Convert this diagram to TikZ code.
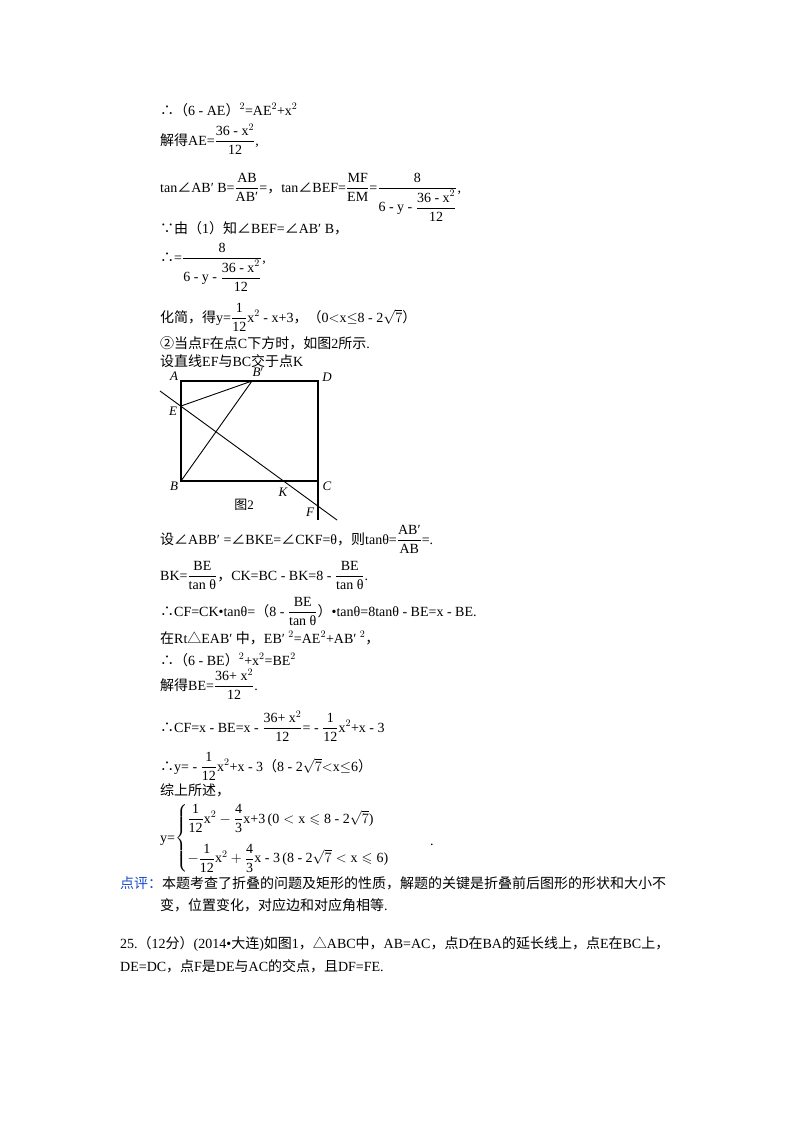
\documentclass[tikz,border=0pt]{standalone}
\usepackage{fontspec}
\usepackage{amsmath,amssymb}
\setmainfont{Liberation Serif}
\newfontfamily\zhf{Noto Sans CJK SC}
\newcommand{\zh}[1]{{\zhf #1}}
\newcommand{\ang}{\zh{∠}}
\newcommand{\fr}[2]{$\dfrac{\mbox{#1}}{\mbox{#2}}$}
\begin{document}
\begin{tikzpicture}[x=1pt,y=-1pt,
  txt/.style={anchor=base west,inner sep=0pt,font=\fontsize{14}{16}\selectfont},
  lab/.style={inner sep=0pt,font=\fontsize{13}{15}\selectfont\itshape},
  ln/.style={line width=1.2pt}]
\fill[white] (0,0) rectangle (800,1132);
\useasboundingbox (0,0) rectangle (800,1132);
\node[txt] (l1) at (160,115) {\zh{∴（}6 - AE\zh{）}$^2$=AE$^2$+x$^2$};
\node[txt] (l2) at (160,145) {\zh{解得}AE=\fr{36 - x$^2$}{12},};
\node[txt] (l3) at (160,192) {tan\ang AB′ B=\fr{AB}{AB′}=\zh{，}tan\ang BEF=\fr{MF}{EM}=$\dfrac{\mbox{8}}{\mbox{6 - y - }\dfrac{\mbox{36 - x$^2$}}{\mbox{12}}}$,};
\node[txt] (l4) at (160,233) {\zh{∵由（}1\zh{）知∠}BEF=\ang AB′ B\zh{，}};
\node[txt] (l5) at (160,262) {\zh{∴}=$\dfrac{\mbox{8}}{\mbox{6 - y - }\dfrac{\mbox{36 - x$^2$}}{\mbox{12}}}$,};
\node[txt] (l6) at (160,322) {\zh{化简，得}y=\fr{1}{12}x$^2$ - x+3\zh{，（}0$<$x$\le$8 - 2$\sqrt{7}$\zh{）}};
\node[txt] (l7) at (160,348) {\zh{②当点}F\zh{在点}C\zh{下方时，如图}2\zh{所示}.};
\node[txt] (l8) at (160,366) {\zh{设直线}EF\zh{与}BC\zh{交于点}K};
% figure
\coordinate (A) at (181,381); \coordinate (D) at (318,381);
\coordinate (B) at (181,481); \coordinate (C) at (318,481);
\coordinate (Bp) at (252,381); \coordinate (E) at (181,406);
\coordinate (L1) at (160,391); \coordinate (L2) at (337,520);
\coordinate (Cd) at (318,520);
\draw[ln] (A) -- (D) -- (C) -- (B) -- cycle;
\draw[ln] (C) -- (Cd);
\draw[line width=0.9pt] (E) -- (Bp) -- (B);
\draw[line width=0.9pt] (L1) -- (L2);
\node[lab] (nA) at (174,376) {A};
\node[lab] (nBp) at (258,372) {B$'$};
\node[lab] (nD) at (327,377) {D};
\node[lab] (nE) at (173,411) {E};
\node[lab] (nB) at (174,486) {B};
\node[lab] (nK) at (283,492) {K};
\node[lab] (nC) at (327,486) {C};
\node[lab] (nF) at (310,512) {F};
\node[inner sep=0pt,font=\fontsize{13}{15}\selectfont] (fig) at (244,505) {\zh{图}2};
\node[txt] (l9) at (160,544) {\zh{设∠}ABB′ =\ang BKE=\ang CKF=θ\zh{，则}tanθ=\fr{AB′}{AB}=.};
\node[txt] (l10) at (160,580) {BK=\fr{BE}{tan θ}\zh{，}CK=BC - BK=8 - \fr{BE}{tan θ}.};
\node[txt] (l11) at (160,616) {\zh{∴}CF=CK•tanθ=\zh{（}8 - \fr{BE}{tan θ}\zh{）}•tanθ=8tanθ - BE=x - BE.};
\node[txt] (l12) at (160,643) {\zh{在}Rt\zh{△}EAB′ \zh{中，}EB′ $^2$=AE$^2$+AB′ $^2$\zh{，}};
\node[txt] (l13) at (160,665) {\zh{∴（}6 - BE\zh{）}$^2$+x$^2$=BE$^2$};
\node[txt] (l14) at (160,690) {\zh{解得}BE=\fr{36+ x$^2$}{12}.};
\node[txt] (l15) at (160,732) {\zh{∴}CF=x - BE=x - \fr{36+ x$^2$}{12}= - \fr{1}{12}x$^2$+x - 3};
\node[txt] (l16) at (160,771) {\zh{∴}y= - \fr{1}{12}x$^2$+x - 3\zh{（}8 - 2$\sqrt{7}$$<$x$\le$6\zh{）}};
\node[txt] (l17) at (160,795) {\zh{综上所述，}};
\node[txt] (l18) at (160,842) {y=$\left\{\begin{array}{@{}l@{}}\dfrac{\mbox{1}}{\mbox{12}}\mbox{x}^2-\dfrac{\mbox{4}}{\mbox{3}}\mbox{x+3\,(0}<\mbox{x}\leqslant\mbox{8 - 2}\sqrt{7}\mbox{)}\\[16pt] -\dfrac{\mbox{1}}{\mbox{12}}\mbox{x}^2+\dfrac{\mbox{4}}{\mbox{3}}\mbox{x - 3\,(8 - 2}\sqrt{7}<\mbox{x}\leqslant\mbox{6)}\end{array}\right.$};
\node[txt] (dot) at (430,845) {.};
\node[txt] (l19) at (120,888) {\zh{\textcolor[rgb]{0.1,0.3,0.8}{点评：}本题考查了折叠的问题及矩形的性质，解题的关键是折叠前后图形的形状和大小不}};
\node[txt] (l20) at (160,910) {\zh{变，位置变化，对应边和对应角相等}.};
\node[txt] (l21) at (120,948) {25.\zh{（}12\zh{分）}(2014•\zh{大连})\zh{如图}1\zh{，△}ABC\zh{中，}AB=AC\zh{，点}D\zh{在}BA\zh{的延长线上，点}E\zh{在}BC\zh{上，}};
\node[txt] (l22) at (120,971) {DE=DC\zh{，点}F\zh{是}DE\zh{与}AC\zh{的交点，且}DF=FE.};
\end{tikzpicture}
\end{document}
